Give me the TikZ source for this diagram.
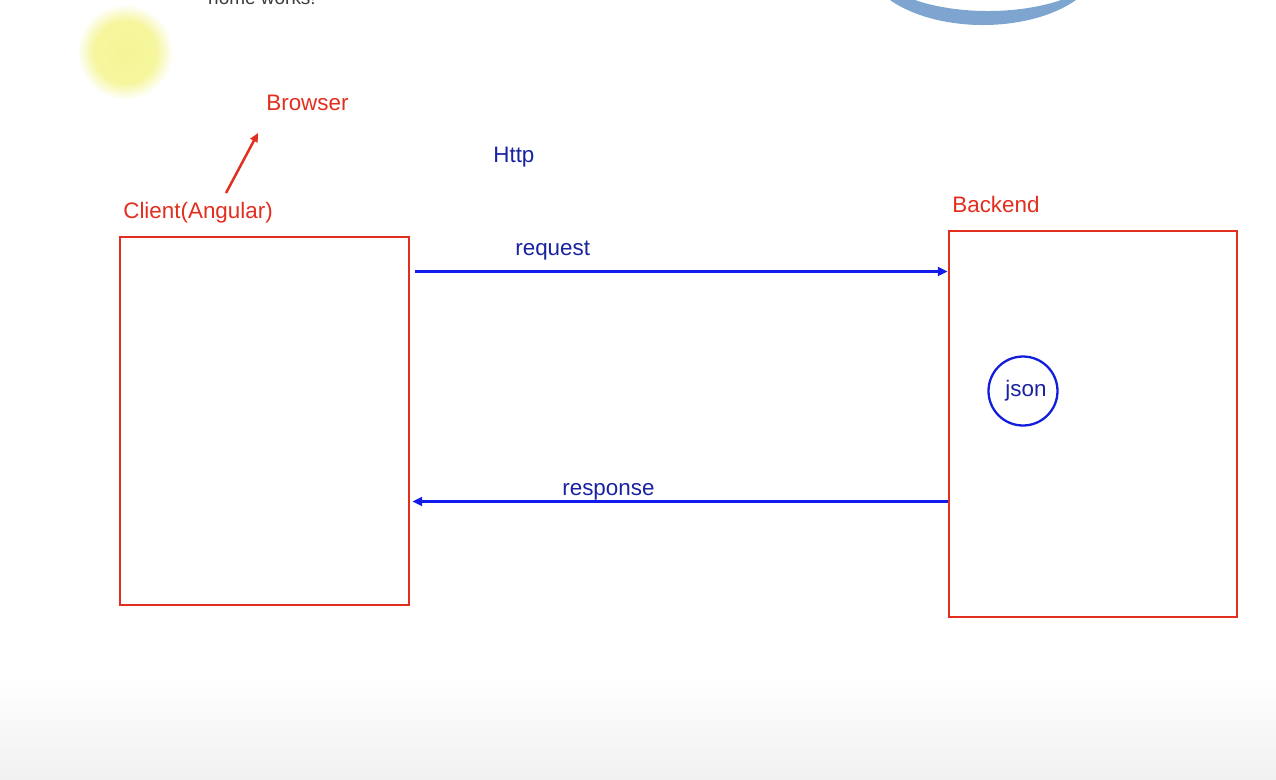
\documentclass[tikz,border=0pt]{standalone}
\usepackage{fontspec}
\setmainfont{Liberation Sans}
\usetikzlibrary{arrows.meta,calc}
\definecolor{cred}{RGB}{226,46,30}
\definecolor{cblue}{RGB}{18,28,235}
\definecolor{cnavy}{RGB}{25,35,160}
\definecolor{carc}{RGB}{125,165,207}
\definecolor{yblob}{RGB}{245,245,150}
\definecolor{cgray}{RGB}{240,240,240}
\definecolor{ctext}{RGB}{60,60,60}
\pgfdeclareradialshading{blob}{\pgfpoint{0bp}{0bp}}{color(0bp)=(yblob); color(15bp)=(yblob!92!white); color(23bp)=(white); color(50bp)=(white)}
\begin{document}
\begin{tikzpicture}[x=0.02cm,y=-0.02cm,
  lbl/.style={font=\fontsize{12.75pt}{15pt}\selectfont, inner sep=0, anchor=base west},
  redlbl/.style={lbl, text=cred},
  bluelbl/.style={lbl, text=cnavy},
  bigbox/.style={draw=cred, line width=1.65pt, inner sep=0},
  flow/.style={draw=cblue, line width=1.6pt, -{Triangle[length=5.5pt,width=5pt]}},
  pointer/.style={draw=cred, line width=1.4pt, -{Triangle[length=5pt,width=4.5pt]}},
  datacircle/.style={circle, draw=cblue!80!cnavy, line width=1.3pt, inner sep=0, minimum size=1.38cm,
    font=\fontsize{12.75pt}{15pt}\selectfont, text=cnavy}
]
\useasboundingbox (0,0) rectangle (1276,779);
\clip (0,0) rectangle (1276,779);
\fill[white] (0,0) rectangle (1276,779);
% bottom gradient
\shade[top color=white, bottom color=cgray] (0,675) rectangle (1276,779);
% yellow blob
\shade[shading=blob] (125,52) circle (52);
% blue arc at top right
\fill[carc, even odd rule] (983,-40) ellipse (118 and 65) (988,-40) ellipse (118 and 51);
% cut-off text
\node[font=\fontsize{10.8pt}{13pt}\selectfont, text=ctext, anchor=base, inner sep=0] (hw) at (262,4) {home works!};

% boxes
\node[bigbox, minimum width=5.78cm, minimum height=7.36cm] (client) at (264.5,421) {};
\node[bigbox, minimum width=5.76cm, minimum height=7.72cm] (backend) at (1093,424) {};

% labels
\node[redlbl] (browser) at (266,110) {Browser};
\node[redlbl] (clientlbl) at (123,218) {Client(Angular)};
\node[redlbl] (backendlbl) at (952,212) {Backend};
\node[bluelbl] (http) at (493,162) {Http};
\node[bluelbl] (req) at (515,255) {request};
\node[bluelbl] (resp) at (562,495) {response};

% json circle
\node[datacircle] (json) at (1023,391) {\hspace*{0.12cm}json};

% connectors
\coordinate (reqy) at (0,271.5);
\coordinate (respy) at (0,501.5);
\draw[flow] ($(client.east |- reqy)+(5,0)$) -- (backend.west |- reqy);
\draw[flow] (backend.west |- respy) -- ($(client.east |- respy)+(2,0)$);

\coordinate (pstart) at (226,193);
\coordinate (pend) at (258,133);
\draw[pointer] (pstart) -- (pend);
\end{tikzpicture}
\end{document}
